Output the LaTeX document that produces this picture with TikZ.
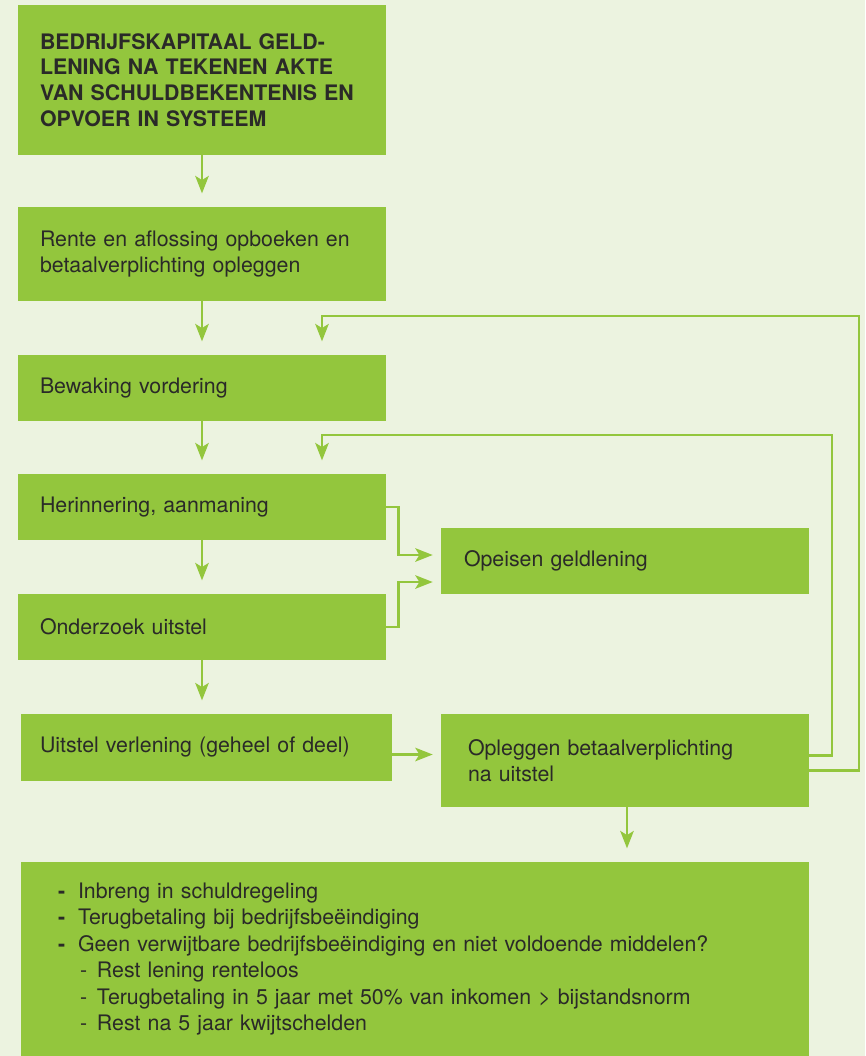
\documentclass[tikz,border=0pt]{standalone}
\usepackage{fontspec}
\setmainfont{TeX Gyre Heros}
\usetikzlibrary{arrows.meta,calc}
\definecolor{leaf}{HTML}{93C63D}
\definecolor{paper}{HTML}{ECF3E0}
\definecolor{ink}{HTML}{2A2A28}

\begin{document}
\begin{tikzpicture}[x=0.75pt,y=0.75pt,yscale=-1,
  box/.style={fill=leaf,text=ink,inner xsep=16.5pt,inner ysep=0pt,minimum height=49.5pt,
    text width=243pt,align=left,font=\fontsize{16}{19.5}\selectfont},
  flow/.style={draw=leaf,line width=2.2pt,-{Stealth[length=13pt,width=10pt,inset=3pt]},shorten >=10pt},
  side/.style={flow,shorten >=6pt}]
\fill[paper] (0,0) rectangle (865,1056);
\useasboundingbox (0,0) rectangle (865,1056);
\node[box,minimum height=112.5pt,font=\bfseries\fontsize{16}{19.3}\selectfont] (1) at (202,80) {BEDRIJFSKAPITAAL GELD-\\LENING NA TEKENEN AKTE\\VAN SCHULDBEKENTENIS EN\\OPVOER IN SYSTEEM};
\node[box,minimum height=70.5pt] (2) at (202,254) {Rente en aflossing opboeken en\\betaalverplichting opleggen};
\node[box] (3) at (202,388) {Bewaking vordering};
\node[box] (4) at (202,507) {Herinnering, aanmaning};
\node[box,inner xsep=17.25pt,text width=241.5pt] (5) at (625,561) {Opeisen geldlening};
\node[box] (6) at (202,627) {Onderzoek uitstel};
\node[box,inner xsep=14.25pt,text width=249.75pt,minimum height=50.25pt] (7) at (206.5,747.5) {Uitstel verlening (geheel of deel)};
\node[box,inner xsep=20.25pt,text width=235.5pt,minimum height=69.75pt] (8) at (625,760.5) {Opleggen betaalverplichting\\na uitstel};
\node[box,inner xsep=27.75pt,text width=535.5pt,minimum height=145.5pt,font=\fontsize{16}{19.8}\selectfont] (9) at (415,959) {%
\makebox[15pt][l]{\bfseries -}Inbreng in schuldregeling\\
\makebox[15pt][l]{\bfseries -}Terugbetaling bij bedrijfsbeëindiging\\
\makebox[15pt][l]{\bfseries -}Geen verwijtbare bedrijfsbeëindiging en niet voldoende middelen?\\
\hspace*{16.5pt}\makebox[12.75pt][l]{-}Rest lening renteloos\\
\hspace*{16.5pt}\makebox[12.75pt][l]{-}Terugbetaling in 5 jaar met 50\% van inkomen > bijstandsnorm\\
\hspace*{16.5pt}\makebox[12.75pt][l]{-}Rest na 5 jaar kwijtschelden};
\coordinate (r1) at (832,435);
\coordinate (r2) at (859,316);
\path (1.south) edge[flow] (2.north);
\path (2.south) edge[flow] (3.north);
\path (3.south) edge[flow] (4.north);
\path (4.south) edge[flow] (6.north);
\path (6.south) edge[flow] (6.south |- 7.north);
\draw[side] (4.east) -- ++(12,0) |- ($(5.west)+(0,-6)$);
\draw[side] (6.east) -- ++(12,0) |- ($(5.west)+(0,21)$);
\draw[side] ($(7.east)+(0,7)$) -- ($(8.west)+(0,-6)$);
\draw[flow] ($(8.south)+(2,0)$) -- ($(8.south |- 9.north)+(2,0)$);
\draw[flow] ($(8.east)+(0,-5)$) -| (r1) -| ($(4.north)+(120,0)$);
\draw[flow] ($(8.east)+(0,10)$) -| (r2) -| ($(3.north)+(120,0)$);
\end{tikzpicture}
\end{document}
